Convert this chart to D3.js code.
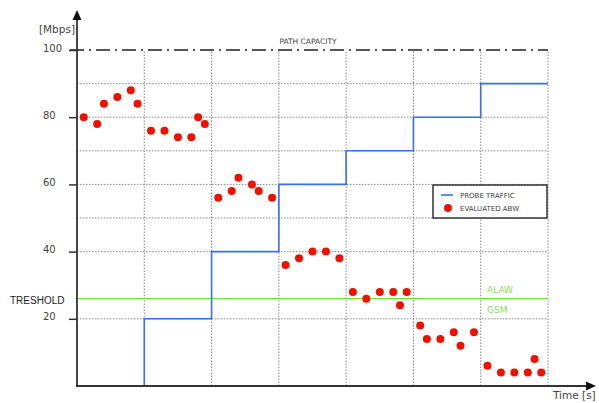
<!DOCTYPE html>
<html>
<head>
<meta charset="utf-8">
<script src="https://cdn.jsdelivr.net/npm/d3@7"></script>
<style>
  body { margin: 0; background: #ffffff; }
  svg { display: block; }
</style>
</head>
<body>
<svg id="chart" width="599" height="403"></svg>
<script>
"use strict";

// evaluated available bandwidth samples (time in intervals, value in Mbps)
const abwTime = [
    0.1, 0.3, 0.4, 0.6, 0.8, 0.9,
    1.1, 1.3, 1.5, 1.7, 1.8, 1.9,
    2.1, 2.3, 2.4, 2.6, 2.7, 2.9,
    3.1, 3.3, 3.5, 3.7, 3.9,
    4.1, 4.3, 4.5, 4.7, 4.8, 4.9,
    5.1, 5.2, 5.4, 5.6, 5.7, 5.9,
    6.1, 6.3, 6.5, 6.7, 6.8, 6.9
];
const abwValue = [
    80, 78, 84, 86, 88, 84,
    76, 76, 74, 74, 80, 78,
    56, 58, 62, 60, 58, 56,
    36, 38, 40, 40, 38,
    28, 26, 28, 28, 24, 28,
    18, 14, 14, 16, 12, 16,
    6, 4, 4, 4, 8, 4
];

// probe traffic steps
const probeTime = [0, 1, 2, 3, 4, 5, 6, 7];
const probeRate = [0, 20, 40, 60, 70, 80, 90, 90];

const yTicks = [20, 40, 60, 80, 100];
const yGrid = [20, 40, 50, 60, 70, 80, 90];
const xGrid = [1, 2, 3, 4, 5, 6, 7];
const pathCapacity = 100;
const threshold = 26;

const svg = d3.select("#chart");

const x = d3.scaleLinear().domain([0, 7]).range([77, 548]);
const y = d3.scaleLinear().domain([0, 100]).range([386, 50]);

const gridColor = "#888";
const axisColor = "#333";
const textColor = "#444";

// grid
svg.append("g")
    .selectAll("line")
    .data(yGrid)
    .enter()
    .append("line")
    .attr("x1", x(0)).attr("x2", x(7))
    .attr("y1", d => y(d)).attr("y2", d => y(d))
    .attr("stroke", gridColor)
    .attr("stroke-width", 1)
    .attr("stroke-dasharray", "1.5,1.5");

svg.append("g")
    .selectAll("line")
    .data(xGrid)
    .enter()
    .append("line")
    .attr("x1", d => x(d)).attr("x2", d => x(d))
    .attr("y1", y(0)).attr("y2", y(pathCapacity))
    .attr("stroke", gridColor)
    .attr("stroke-width", 1)
    .attr("stroke-dasharray", "1.5,1.5");

// path capacity
svg.append("line")
    .attr("x1", x(0) - 7).attr("x2", x(7))
    .attr("y1", y(pathCapacity)).attr("y2", y(pathCapacity))
    .attr("stroke", "#555")
    .attr("stroke-width", 2)
    .attr("stroke-dasharray", "14,5,2,5");

svg.append("text")
    .attr("x", 308).attr("y", 44)
    .attr("text-anchor", "middle")
    .attr("font-family", "DejaVu Sans")
    .attr("font-size", 7.5)
    .attr("fill", textColor)
    .text("PATH CAPACITY");

// threshold
svg.append("line")
    .attr("x1", x(0)).attr("x2", x(7))
    .attr("y1", y(threshold)).attr("y2", y(threshold))
    .attr("stroke", "#77dd33")
    .attr("stroke-width", 1.2);

svg.append("text")
    .attr("x", 10).attr("y", y(threshold) + 5)
    .attr("font-family", "Liberation Sans")
    .attr("font-size", 10)
    .attr("fill", "#222")
    .text("TRESHOLD");

svg.append("text")
    .attr("x", 487).attr("y", y(threshold) - 6)
    .attr("font-family", "DejaVu Sans")
    .attr("font-size", 9)
    .attr("fill", "#88e055")
    .text("ALAW");

svg.append("text")
    .attr("x", 487).attr("y", y(threshold) + 14)
    .attr("font-family", "DejaVu Sans")
    .attr("font-size", 9)
    .attr("fill", "#88e055")
    .text("GSM");

// probe traffic
const probeLine = d3.line()
    .x((d, i) => x(probeTime[i]))
    .y(d => y(d))
    .curve(d3.curveStepAfter);

svg.append("path")
    .datum(probeRate)
    .attr("d", probeLine)
    .attr("fill", "none")
    .attr("stroke", "#3a6ff0")
    .attr("stroke-width", 1.6);

// evaluated abw
svg.append("g")
    .selectAll("circle")
    .data(abwValue)
    .enter()
    .append("circle")
    .attr("cx", (d, i) => x(abwTime[i]))
    .attr("cy", d => y(d))
    .attr("r", 4)
    .attr("fill", "#ee1100");

// y axis
const yAxis = svg.append("g")
    .attr("transform", "translate(" + x(0) + ",0)")
    .call(d3.axisLeft(y).tickValues(yTicks).tickSize(8).tickSizeOuter(0));

yAxis.select(".domain").remove();
yAxis.selectAll(".tick line")
    .attr("stroke", axisColor)
    .attr("stroke-width", 1.5);
yAxis.selectAll(".tick text")
    .attr("x", -34)
    .attr("dy", "0.1em")
    .attr("text-anchor", "start")
    .attr("font-family", "DejaVu Sans")
    .attr("font-size", 10)
    .attr("fill", textColor);

// axis lines with arrows
svg.append("line")
    .attr("x1", x(0)).attr("x2", x(0))
    .attr("y1", y(0) + 1).attr("y2", 16)
    .attr("stroke", axisColor)
    .attr("stroke-width", 1.8);
svg.append("path")
    .attr("d", "M" + x(0) + ",10 L" + (x(0) - 4.5) + ",20 L" + (x(0) + 4.5) + ",20 Z")
    .attr("fill", "#111");

svg.append("line")
    .attr("x1", x(0) - 1).attr("x2", 590)
    .attr("y1", y(0)).attr("y2", y(0))
    .attr("stroke", axisColor)
    .attr("stroke-width", 1.8);
svg.append("path")
    .attr("d", "M596," + y(0) + " L586," + (y(0) - 4.5) + " L586," + (y(0) + 4.5) + " Z")
    .attr("fill", "#111");

svg.append("text")
    .attr("x", 57).attr("y", 33)
    .attr("text-anchor", "middle")
    .attr("font-family", "DejaVu Sans")
    .attr("font-size", 10.5)
    .attr("fill", textColor)
    .text("[Mbps]");

svg.append("text")
    .attr("x", 553).attr("y", 399)
    .attr("font-family", "DejaVu Sans")
    .attr("font-size", 10.5)
    .attr("fill", textColor)
    .text("Time [s]");

// legend
const legend = svg.append("g");
legend.append("rect")
    .attr("x", 433).attr("y", 185)
    .attr("width", 114).attr("height", 33)
    .attr("fill", "#fff")
    .attr("stroke", "#333")
    .attr("stroke-width", 1.5);
legend.append("line")
    .attr("x1", 441).attr("x2", 453)
    .attr("y1", 195).attr("y2", 195)
    .attr("stroke", "#3a6ff0")
    .attr("stroke-width", 1.6);
legend.append("circle")
    .attr("cx", 448).attr("cy", 208)
    .attr("r", 4)
    .attr("fill", "#ee1100");
legend.append("text")
    .attr("x", 460).attr("y", 197.5)
    .attr("font-family", "DejaVu Sans")
    .attr("font-size", 7)
    .attr("fill", textColor)
    .text("PROBE TRAFFIC");
legend.append("text")
    .attr("x", 460).attr("y", 210.5)
    .attr("font-family", "DejaVu Sans")
    .attr("font-size", 7)
    .attr("fill", textColor)
    .text("EVALUATED ABW");
</script>
</body>
</html>
